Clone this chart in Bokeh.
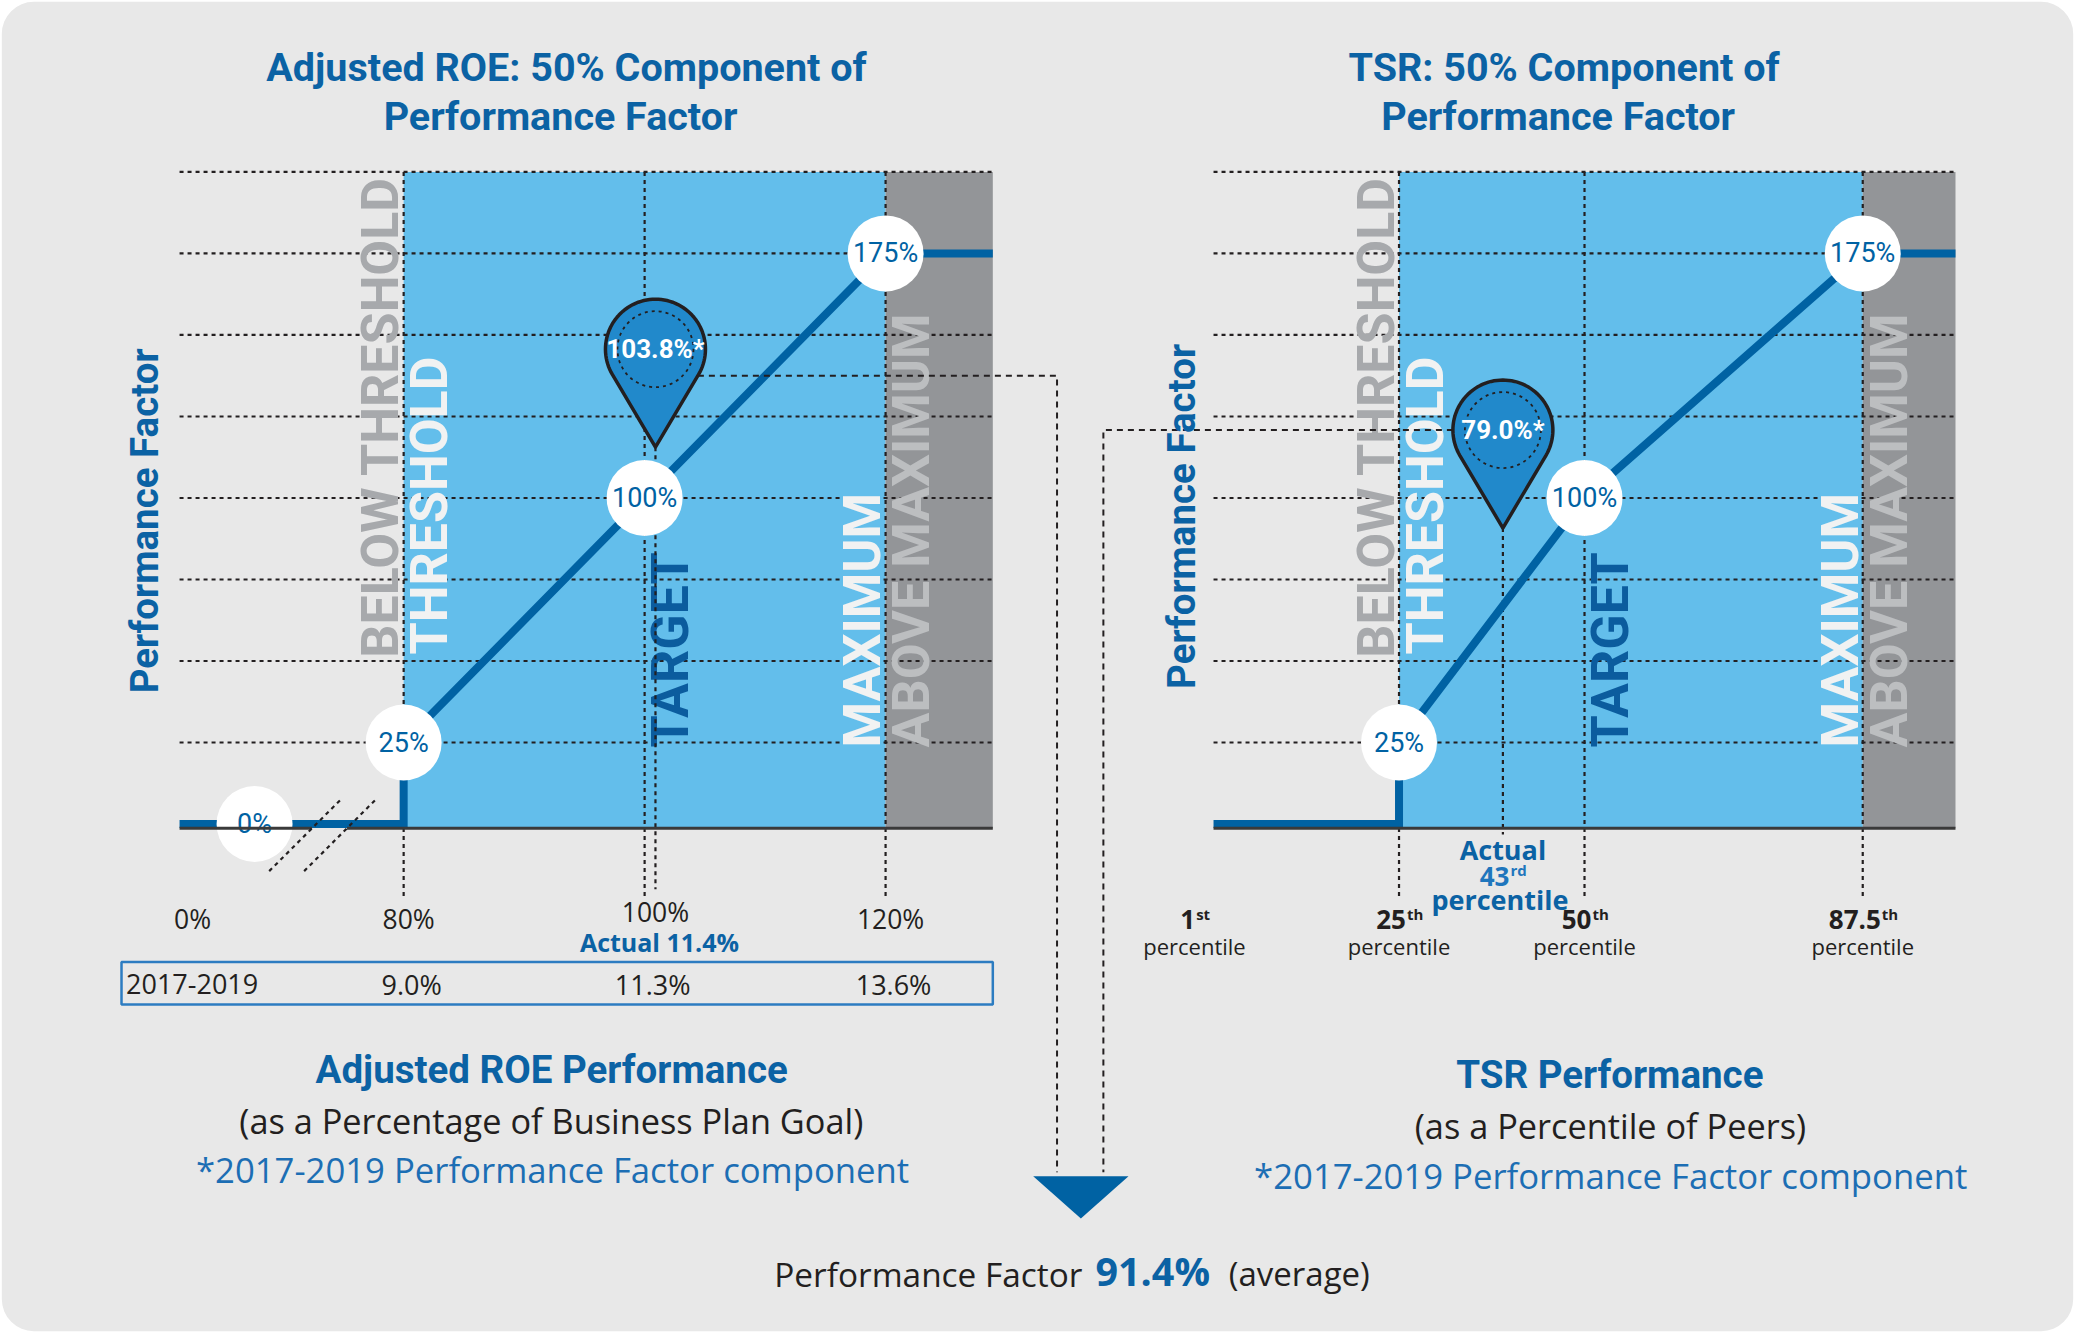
import math
from bokeh.plotting import figure
from bokeh.models import Range1d, BoxAnnotation
from bokeh.core.properties import value
from bokeh.embed import file_html
from bokeh.resources import INLINE

# ---------------- data ----------------
pf_gridlines = [25, 50, 75, 100, 125, 150, 175, 200]

roe_axis_limits = [61.4, 128.9]          # ROE % of plan, axis broken below 80 %
roe_break_marks = [72.4, 75.3]
roe_ticks = [0, 80, 100, 120]
roe_tick_labels = ["0%", "80%", "100%", "120%"]
roe_goal_period = "2017-2019"
roe_goal_labels = ["9.0%", "11.3%", "13.6%"]
roe_curve_x = [80, 100, 120]
roe_curve_y = [25, 100, 175]
roe_actual = 100.9                       # 11.4 / 11.3
roe_actual_text = "Actual 11.4%"
roe_result = 103.8

tsr_axis_limits = [0, 100]
tsr_ticks = [1, 25, 50, 87.5]
tsr_tick_nums = ["1", "25", "50", "87.5"]
tsr_tick_sups = ["st", "th", "th", "th"]
tsr_curve_x = [25, 50, 87.5]
tsr_curve_y = [25, 100, 175]
tsr_actual_rank = 43
tsr_actual_drawn = 39.0                  # where the graphic draws the marker
tsr_result = 79.0

overall_result = 91.4

zone_labels = ["BELOW THRESHOLD", "THRESHOLD", "TARGET", "MAXIMUM", "ABOVE MAXIMUM"]

# ---------------- styling / layout ----------------
S = 2076 / 1568
FIG_W, FIG_H = 2074, 1332
X0, X1 = 0.0, FIG_W / S
YT, YB = 0.0, FIG_H / S

PF_PX0, PF_PPU = 622.0, 2.4625
ROE_REF, ROE_PX, ROE_PPU = 80, 304.5, 9.1
TSR_REF, TSR_PX, TSR_PPU = 25, 1056.3, 5.604

BG = "#E8E8E8"
LIGHT_BLUE = "#63BEEB"
DARK_GRAY = "#939598"
LINE_BLUE = "#0062A3"
TITLE_BLUE = "#0B62A4"
NOTE_BLUE = "#1C6EB4"
MID_BLUE = "#1F76BD"
INK = "#231F20"
PIN_FILL = "#2189CB"
TABLE_BLUE = "#2C7CC1"
WHITE_TXT = "#F1F2F2"
GRAY_TXT = "#A7A9AC"
GRAY_TXT2 = "#BCBEC0"
TARGET_TXT = "#0B5C9E"

HEAD = value("Roboto")
BODY = value("Open Sans")
HEAD_SIZE = 38.5
CAP_MID = 0.36                 # cap-height centre, in em, above the baseline


def pf_px(v):
    return PF_PX0 - PF_PPU * v


def roe_px(v):
    return ROE_PX + (v - ROE_REF) * ROE_PPU


def tsr_px(v):
    return TSR_PX + (v - TSR_REF) * TSR_PPU


def rng(ref_val, ref_px, ppu, a, b):
    return Range1d(ref_val + (a - ref_px) / ppu, ref_val + (b - ref_px) / ppu)


p = figure(width=FIG_W, height=FIG_H, x_range=Range1d(X0, X1), y_range=Range1d(YB, YT),
           output_backend="svg", toolbar_location=None,
           x_axis_location=None, y_axis_location=None, min_border=0,
           outline_line_color=None, background_fill_color="white",
           border_fill_color="white")
p.grid.grid_line_color = None
p.extra_x_ranges = {"roe": rng(ROE_REF, ROE_PX, ROE_PPU, X0, X1),
                    "tsr": rng(TSR_REF, TSR_PX, TSR_PPU, X0, X1)}
p.extra_y_ranges = {"pf": rng(0, PF_PX0, -PF_PPU, YB, YT)}

p.add_layout(BoxAnnotation(left=X0 + 1, right=X1 - 1, top=YT + 1, bottom=YB - 1, border_radius=32,
                           fill_color=BG, fill_alpha=1, line_color=None, level="underlay"))


def txt(x, y, s, size, color, font=BODY, style="normal", align="center",
        baseline="alphabetic", xr="default", yr="default", angle=0.0, x_off=0.0, y_off=0.0):
    # anchor given on the baseline: draw centred on the cap height instead
    if baseline == "alphabetic":
        x_off -= CAP_MID * size * math.sin(angle)
        y_off -= CAP_MID * size * math.cos(angle)
    p.text(x=[x], y=[y], text=[s], text_font=font, text_font_size=f"{size:.1f}px",
           text_font_style=style, text_color=color, text_align=align,
           text_baseline="middle", angle=angle, x_offset=x_off, y_offset=y_off,
           x_range_name=xr, y_range_name=yr)


DOT = dict(line_color=INK, line_width=2.2, line_dash="4 4")
PIN_R, PIN_D = 50, 98          # screen px
PIN_LIFT = 29                  # 1568-scale px above the value


def chart(xr, xppu, lim, curve_x, curve_y, zero_label_at, actual_x, actual_drop, result):
    thr, tgt, mx = curve_x
    # zones
    p.quad(left=[thr, mx], right=[mx, lim[1]], bottom=[-1.3, -1.3], top=[200, 200],
           fill_color=[LIGHT_BLUE, DARK_GRAY], line_color=None,
           x_range_name=xr, y_range_name="pf")
    # horizontal gridlines (under the zone labels)
    p.segment(x0=[lim[0]] * len(pf_gridlines), x1=[lim[1]] * len(pf_gridlines),
              y0=pf_gridlines, y1=pf_gridlines, x_range_name=xr, y_range_name="pf", **DOT)
    # zone labels (rotated), anchored on their baseline
    side_before, side_after = -3 * S, 34 * S
    specs = [(zone_labels[0], thr, side_before, 51, GRAY_TXT),
             (zone_labels[1], thr, side_after, 52, WHITE_TXT),
             (zone_labels[2], tgt, side_after, 23.5, TARGET_TXT),
             (zone_labels[3], mx, side_before, 23.5, WHITE_TXT),
             (zone_labels[4], mx, side_after, 23.5, GRAY_TXT2)]
    for s, xv, off, yv, col in specs:
        txt(xv, yv, s, 52, col, font=HEAD, style="bold", align="left",
            xr=xr, yr="pf", angle=math.pi / 2, x_off=off)
    # vertical guides (over the labels)
    p.segment(x0=curve_x, x1=curve_x, y0=[200] * 3, y1=[-22.5] * 3,
              x_range_name=xr, y_range_name="pf", **DOT)
    tip = result + PIN_LIFT / PF_PPU
    p.segment(x0=[actual_x], x1=[actual_x], y0=[tip], y1=[actual_drop],
              x_range_name=xr, y_range_name="pf", **DOT)
    # step curve
    xs = [lim[0], thr] + list(curve_x) + [lim[1]]
    ys = [0, 0] + list(curve_y) + [curve_y[-1]]
    p.line(xs, ys, line_color=LINE_BLUE, line_width=8, line_join="miter",
           x_range_name=xr, y_range_name="pf")
    # value circles
    cx = list(curve_x) + ([zero_label_at] if zero_label_at is not None else [])
    cy = list(curve_y) + ([0] if zero_label_at is not None else [])
    p.scatter(cx, cy, marker="circle", size=76, fill_color="white", line_color=None,
              x_range_name=xr, y_range_name="pf")
    p.text(x=cx, y=cy, text=[f"{v}%" for v in cy], text_font=HEAD, text_font_size="27px",
           text_color=LINE_BLUE, text_align="center", text_baseline="middle",
           x_range_name=xr, y_range_name="pf")
    return tip


def pin(xr, xppu, x, tip, label):
    th0 = math.acos(PIN_R / PIN_D)
    n = 72
    sx, sy = [0.0], [0.0]
    for i in range(n + 1):
        phi = th0 + (2 * math.pi - 2 * th0) * i / n
        sx.append(PIN_R * math.sin(phi))
        sy.append(-PIN_D + PIN_R * math.cos(phi))
    xs = [x + a / (S * xppu) for a in sx]
    ys = [tip - b / (S * PF_PPU) for b in sy]
    p.patch(xs, ys, fill_color=PIN_FILL, line_color=INK, line_width=3.5, line_join="round",
            x_range_name=xr, y_range_name="pf")
    cy = tip + PIN_D / (S * PF_PPU)
    p.scatter([x], [cy], marker="circle", size=76, fill_color=None, line_color=INK,
              line_width=1.8, line_dash="3 4", x_range_name=xr, y_range_name="pf")
    p.text(x=[x], y=[cy], text=[label], text_font=HEAD, text_font_size="26px",
           text_font_style="bold", text_color="white", text_align="center",
           text_baseline="middle", x_range_name=xr, y_range_name="pf")
    return cy


# ---------------- ROE chart ----------------
roe_zero_at = (roe_axis_limits[0] + sum(roe_break_marks) / 2) / 2
roe_tip = chart("roe", ROE_PPU, roe_axis_limits, roe_curve_x, roe_curve_y,
                roe_zero_at, roe_actual, -20, roe_result)
# axis line with break
ax_y = -1.3
p.segment(x0=[roe_axis_limits[0], roe_break_marks[1]], x1=[roe_break_marks[0], roe_axis_limits[1]],
          y0=[ax_y, ax_y], y1=[ax_y, ax_y], line_color="#3A3A3A", line_width=3,
          x_range_name="roe", y_range_name="pf")
p.segment(x0=[b - 32.4 / ROE_PPU for b in roe_break_marks],
          x1=[b + 21.8 / ROE_PPU for b in roe_break_marks],
          y0=[ax_y - 32.4 / PF_PPU] * 2, y1=[ax_y + 21.8 / PF_PPU] * 2,
          x_range_name="roe", y_range_name="pf", **DOT)

# ---------------- TSR chart ----------------
tsr_tip = chart("tsr", TSR_PPU, tsr_axis_limits, tsr_curve_x, tsr_curve_y,
                None, tsr_actual_drawn, -3.2, tsr_result)
p.segment(x0=[tsr_axis_limits[0]], x1=[tsr_axis_limits[1]], y0=[ax_y], y1=[ax_y],
          line_color="#3A3A3A", line_width=3, x_range_name="tsr", y_range_name="pf")

# ---------------- connectors and arrow ----------------
ARROW_X, ARROW_TOP, ARROW_HALF, ARROW_H = 816, 888, 36, 32
R1568 = PIN_R / S
roe_c = (roe_px(roe_actual), pf_px(roe_tip) - PIN_D / S)
tsr_c = (tsr_px(tsr_actual_drawn), pf_px(tsr_tip) - PIN_D / S)
yl = roe_c[1] + 20
p.line([roe_c[0] + math.sqrt(R1568 ** 2 - 20 ** 2), ARROW_X - 18, ARROW_X - 18],
       [yl, yl, ARROW_TOP - 3], line_color=INK, line_width=2, line_dash="6 5")
p.line([tsr_c[0] - R1568, ARROW_X + 17, ARROW_X + 17],
       [tsr_c[1], tsr_c[1], ARROW_TOP - 3], line_color=INK, line_width=2, line_dash="6 5")
p.patch([ARROW_X - ARROW_HALF, ARROW_X + ARROW_HALF, ARROW_X],
        [ARROW_TOP, ARROW_TOP, ARROW_TOP + ARROW_H], fill_color=LINE_BLUE, line_color=None)

# pins (drawn last so they sit on top)
pin("roe", ROE_PPU, roe_actual, roe_tip, f"{roe_result}%*")
pin("tsr", TSR_PPU, tsr_actual_drawn, tsr_tip, f"{tsr_result}%*")

# ---------------- titles ----------------
txt(427.5, 61.2, "Adjusted ROE: 50% Component of", 39.5, TITLE_BLUE, font=HEAD, style="bold")
txt(423, 98.7, "Performance Factor", 39.5, TITLE_BLUE, font=HEAD, style="bold")
txt(1181, 61.2, "TSR: 50% Component of", 39.5, TITLE_BLUE, font=HEAD, style="bold")
txt(1176.5, 98.7, "Performance Factor", 39.5, TITLE_BLUE, font=HEAD, style="bold")
txt(118.9, 393, "Performance Factor", HEAD_SIZE, TITLE_BLUE, font=HEAD, style="bold", angle=math.pi / 2)
txt(902.4, 389.7, "Performance Factor", HEAD_SIZE, TITLE_BLUE, font=HEAD, style="bold", angle=math.pi / 2)

# ---------------- ROE axis labels and table ----------------
for t, lab in zip(roe_ticks, roe_tick_labels):
    if t < roe_axis_limits[0]:
        txt(roe_axis_limits[0], 701, lab, 26.5, INK, xr="roe", x_off=13)
    elif t == 100:
        txt(roe_actual, 696, lab, 26.5, INK, xr="roe")
    else:
        txt(t, 701, lab, 26.5, INK, xr="roe", x_off=5)
txt(roe_actual, 718, roe_actual_text, 25, TITLE_BLUE, style="bold", xr="roe", x_off=4)

table_right = roe_px(roe_axis_limits[1])
p.quad(left=[91.4], right=[table_right], top=[726.3], bottom=[758.3],
       fill_color=None, line_color=TABLE_BLUE, line_width=2.5)
txt(94.8, 750.2, roe_goal_period, 27, INK, align="left")
for t, lab in zip(roe_curve_x, roe_goal_labels):
    txt(t, 750.2, lab, 27, INK, xr="roe", x_off=8)

txt(416.3, 818.2, "Adjusted ROE Performance", HEAD_SIZE, TITLE_BLUE, font=HEAD, style="bold")
txt(416, 855.5, "(as a Percentage of Business Plan Goal)", 34.3, INK)
txt(417, 892.5, "*2017-2019 Performance Factor component", 34.7, NOTE_BLUE)

# ---------------- TSR axis labels ----------------
OS_BOLD_W = {c: 0.572 for c in "0123456789"}
OS_BOLD_W["."] = 0.287
OS_SUP_W = {"s": 0.50, "t": 0.40, "h": 0.66, "r": 0.45, "d": 0.66}


def sup_label(xv, y, num, sup, size, sup_size, color, x_shift=0.0):
    w_num = sum(OS_BOLD_W.get(c, 0.6) for c in num) * size
    w_sup = sum(OS_SUP_W.get(c, 0.55) for c in sup) * sup_size
    j = (w_num - w_sup) / 2 + x_shift
    txt(xv, y, num, size, color, style="bold", align="right", xr="tsr", x_off=j)
    txt(xv, y, sup, sup_size, color, style="bold", align="left", xr="tsr",
        x_off=j + 1, y_off=-10)


for i, (t, num, sup) in enumerate(zip(tsr_ticks, tsr_tick_nums, tsr_tick_sups)):
    shift = -26.5 if i == 0 else 0.0
    sup_label(t, 701.4, num, sup, 26, 15, INK, shift)
    txt(t, 720, "percentile", 22, INK, xr="tsr", x_off=shift)

txt(tsr_actual_drawn, 648.5, "Actual", 27, TITLE_BLUE, style="bold", xr="tsr")
sup_label(tsr_actual_drawn, 668.5, str(tsr_actual_rank), "rd", 26, 15, MID_BLUE)
txt(tsr_actual_drawn, 686.6, "percentile", 27, TITLE_BLUE, style="bold", xr="tsr", x_off=-3)

txt(1215.5, 821.6, "TSR Performance", HEAD_SIZE, TITLE_BLUE, font=HEAD, style="bold")
txt(1216, 858.9, "(as a Percentile of Peers)", 34.3, INK)
txt(1216.2, 897, "*2017-2019 Performance Factor component", 34.7, NOTE_BLUE)

# ---------------- overall result ----------------
txt(817.2, 970.6, "Performance Factor", 33.4, INK, align="right")
txt(827, 970.6, f"{overall_result}%", 39.5, TITLE_BLUE, style="bold", align="left")
txt(927.7, 970.6, "(average)", 33, INK, align="left")

open("out.html", "w").write(file_html(p, INLINE))
